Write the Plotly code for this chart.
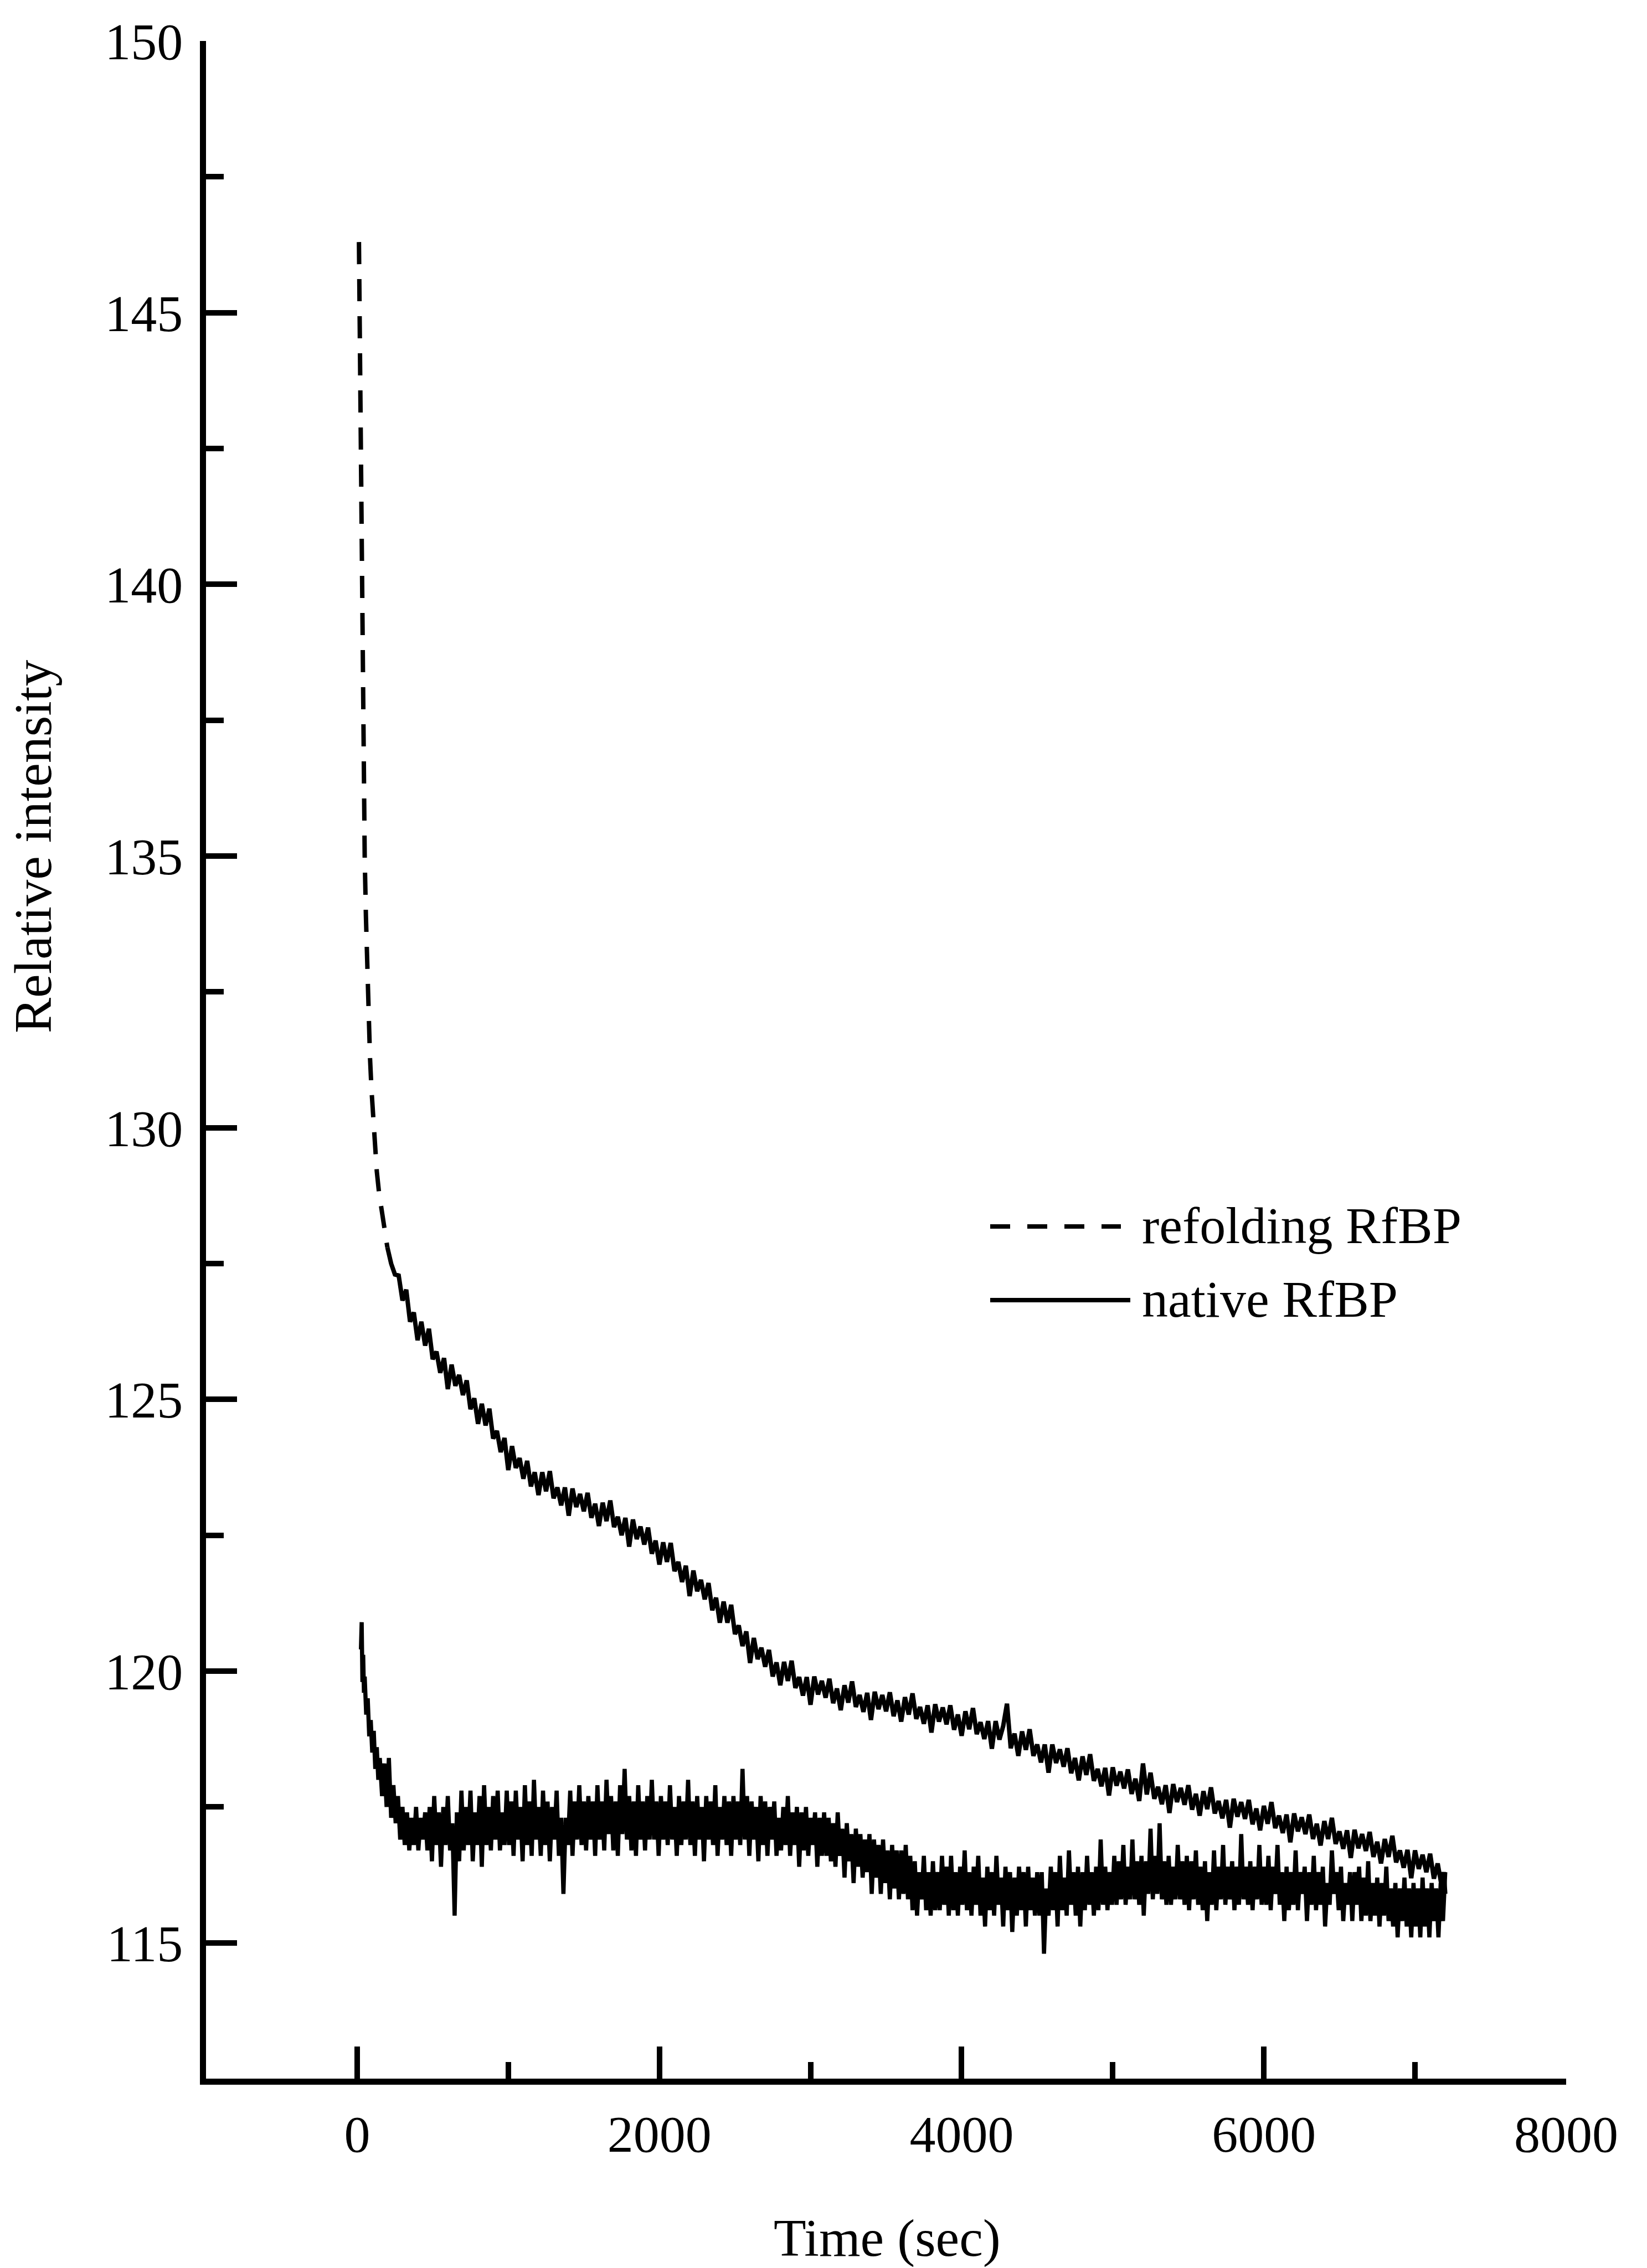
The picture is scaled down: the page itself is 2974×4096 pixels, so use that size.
import plotly.graph_objects as go

# ---------------- data ----------------
# refolding RfBP : time (s) and relative intensity
refold_t = [12, 16, 20, 24, 28, 32, 37, 42, 50, 58, 66, 75, 85, 95, 105, 115, 130, 145, 160, 180, 200, 225, 250,
            275, 300, 325, 350, 375, 400, 425, 450, 475, 500, 525, 550, 575, 600, 625, 650, 675, 700, 725, 750,
            775, 800, 825, 850, 875, 900, 925, 950, 975, 1000, 1025, 1050, 1075, 1100, 1125, 1150, 1175, 1200, 1225, 1250,
            1275, 1300, 1325, 1350, 1375, 1400, 1425, 1450, 1475, 1500, 1525, 1550, 1575, 1600, 1625, 1650, 1675, 1700, 1725, 1750,
            1775, 1800, 1825, 1850, 1875, 1900, 1925, 1950, 1975, 2000, 2025, 2050, 2075, 2100, 2125, 2150, 2175, 2200, 2225, 2250,
            2275, 2300, 2325, 2350, 2375, 2400, 2425, 2450, 2475, 2500, 2525, 2550, 2575, 2600, 2625, 2650, 2675, 2700, 2725, 2750,
            2775, 2800, 2825, 2850, 2875, 2900, 2925, 2950, 2975, 3000, 3025, 3050, 3075, 3100, 3125, 3150, 3175, 3200, 3225, 3250,
            3275, 3300, 3325, 3350, 3375, 3400, 3425, 3450, 3475, 3500, 3525, 3550, 3575, 3600, 3625, 3650, 3675, 3700, 3725, 3750,
            3775, 3800, 3825, 3850, 3875, 3900, 3925, 3950, 3975, 4000, 4025, 4050, 4075, 4100, 4125, 4150, 4175, 4200, 4225, 4250,
            4275, 4300, 4325, 4350, 4375, 4400, 4425, 4450, 4475, 4500, 4525, 4550, 4575, 4600, 4625, 4650, 4675, 4700, 4725, 4750,
            4775, 4800, 4825, 4850, 4875, 4900, 4925, 4950, 4975, 5000, 5025, 5050, 5075, 5100, 5125, 5150, 5175, 5200, 5225, 5250,
            5275, 5300, 5325, 5350, 5375, 5400, 5425, 5450, 5475, 5500, 5525, 5550, 5575, 5600, 5625, 5650, 5675, 5700, 5725, 5750,
            5775, 5800, 5825, 5850, 5875, 5900, 5925, 5950, 5975, 6000, 6025, 6050, 6075, 6100, 6125, 6150, 6175, 6200, 6225, 6250,
            6275, 6300, 6325, 6350, 6375, 6400, 6425, 6450, 6475, 6500, 6525, 6550, 6575, 6600, 6625, 6650, 6675, 6700, 6725, 6750,
            6775, 6800, 6825, 6850, 6875, 6900, 6925, 6950, 6975, 7000, 7025, 7050, 7075, 7100, 7125, 7150, 7175, 7190, 7200]
refold_y = [146.3, 145.0, 144.0, 142.2, 140.5, 138.8, 137.4, 136.3, 135.0, 133.9, 133.0, 132.2, 131.3, 130.7,
            130.2, 129.7, 129.2, 128.8, 128.5, 128.1, 127.8, 127.5, 127.3,
            127.28, 126.82, 127.02, 126.43, 126.60, 126.09, 126.43, 125.99, 126.30, 125.74,
            125.88, 125.49, 125.76, 125.19, 125.64, 125.25, 125.45, 125.08, 125.35, 124.82,
            125.02, 124.55, 124.92, 124.52, 124.83, 124.28, 124.42, 124.03, 124.29, 123.70,
            124.14, 123.74, 123.92, 123.54, 123.87, 123.40, 123.66, 123.24, 123.66, 123.31,
            123.68, 123.18, 123.38, 123.05, 123.38, 122.86, 123.36, 123.02, 123.26, 122.94,
            123.28, 122.82, 123.08, 122.67, 123.10, 122.76, 123.14, 122.65, 122.84, 122.50,
            122.82, 122.29, 122.79, 122.43, 122.66, 122.33, 122.64, 122.16, 122.40, 121.96,
            122.37, 122.01, 122.36, 121.84, 122.01, 121.64, 121.94, 121.38, 121.85, 121.47,
            121.68, 121.32, 121.62, 121.12, 121.35, 120.89, 121.28, 120.89, 121.22, 120.68,
            120.84, 120.46, 120.73, 120.15, 120.61, 120.22, 120.43, 120.08, 120.39, 119.90,
            120.16, 119.74, 120.17, 119.82, 120.19, 119.69, 119.89, 119.55, 119.89, 119.38,
            119.90, 119.57, 119.82, 119.51, 119.86, 119.41, 119.68, 119.28, 119.74, 119.42,
            119.81, 119.34, 119.56, 119.25, 119.60, 119.10, 119.62, 119.30, 119.56, 119.26,
            119.61, 119.17, 119.46, 119.07, 119.52, 119.20, 119.59, 119.12, 119.34, 119.03,
            119.37, 118.87, 119.39, 119.07, 119.33, 119.02, 119.37, 118.92, 119.20, 118.81,
            119.26, 118.93, 119.32, 118.84, 119.06, 118.75, 119.08, 118.57, 119.08, 118.74,
            118.99, 119.40, 118.58, 118.85, 118.44, 118.89, 118.55, 118.93, 118.44, 118.65,
            118.32, 118.65, 118.13, 118.65, 118.31, 118.56, 118.24, 118.58, 118.12, 118.40,
            117.99, 118.43, 118.09, 118.47, 117.98, 118.20, 117.88, 118.22, 117.71, 118.23,
            117.89, 118.15, 117.84, 118.19, 117.74, 118.02, 117.61, 118.30, 117.73, 118.13,
            117.65, 117.87, 117.55, 117.90, 117.39, 117.92, 117.59, 117.85, 117.54, 117.90,
            117.45, 117.74, 117.34, 117.79, 117.46, 117.86, 117.38, 117.61, 117.29, 117.63,
            117.12, 117.65, 117.32, 117.59, 117.28, 117.63, 117.18, 117.47, 117.07, 117.52,
            117.19, 117.59, 117.11, 117.34, 117.02, 117.36, 116.85, 117.38, 117.05, 117.31,
            117.00, 117.36, 116.91, 117.19, 116.79, 117.24, 116.91, 117.30, 116.82, 117.05,
            116.73, 117.07, 116.56, 117.08, 116.74, 117.00, 116.69, 117.04, 116.58, 116.86,
            116.46, 116.91, 116.58, 116.97, 116.48, 116.70, 116.38, 116.71, 116.19, 116.70,
            116.36, 116.62, 116.30, 116.64, 116.18, 116.46, 116.06, 116.30, 115.90]

# native RfBP : time (s) and relative intensity
native_t = [25, 30, 35, 40, 45, 50, 60, 70, 80, 90, 100, 110, 120, 130, 140, 150, 165, 180, 195, 210, 225,
            240, 255, 270, 285, 300, 315, 330, 345, 360, 375, 390, 405, 420, 435, 450,
            465, 480, 495, 510, 525, 540, 555, 570, 585, 600, 615, 630, 645, 660, 675, 690, 705, 720,
            735, 750, 765, 780, 795, 810, 825, 840, 855, 870, 885, 900, 915, 930, 945, 960, 975, 990,
            1005, 1020, 1035, 1050, 1065, 1080, 1095, 1110, 1125, 1140, 1155, 1170, 1185, 1200, 1215, 1230, 1245,
            1260, 1275, 1290, 1305, 1320, 1335, 1350, 1365, 1380, 1395, 1410, 1425, 1440, 1455, 1470, 1485, 1500,
            1515, 1530, 1545, 1560, 1575, 1590, 1605, 1620, 1635, 1650, 1665, 1680, 1695, 1710, 1725, 1740, 1755,
            1770, 1785, 1800, 1815, 1830, 1845, 1860, 1875, 1890, 1905, 1920, 1935, 1950, 1965, 1980, 1995, 2010,
            2025, 2040, 2055, 2070, 2085, 2100, 2115, 2130, 2145, 2160, 2175, 2190, 2205, 2220, 2235, 2250, 2265,
            2280, 2295, 2310, 2325, 2340, 2355, 2370, 2385, 2400, 2415, 2430, 2445, 2460, 2475, 2490, 2505, 2520,
            2535, 2550, 2565, 2580, 2595, 2610, 2625, 2640, 2655, 2670, 2685, 2700, 2715, 2730, 2745, 2760, 2775, 2790,
            2805, 2820, 2835, 2850, 2865, 2880, 2895, 2910, 2925, 2940, 2955, 2970, 2985, 3000, 3015, 3030, 3045,
            3060, 3075, 3090,
            3105, 3120, 3135, 3150, 3165, 3180, 3195, 3210, 3225, 3240, 3255, 3270, 3285, 3300, 3315, 3330, 3345,
            3360, 3375, 3390, 3405, 3420, 3435, 3450, 3465, 3480, 3495, 3510, 3525, 3540, 3555, 3570, 3585, 3600,
            3615, 3630, 3645, 3660, 3675, 3690, 3705, 3720, 3735, 3750, 3765, 3780, 3795, 3810, 3825, 3840,
            3855, 3870, 3885, 3900, 3915, 3930, 3945, 3960, 3975, 3990, 4005, 4020, 4035, 4050, 4065, 4080, 4095,
            4110, 4125, 4140, 4155, 4170, 4185, 4200, 4215, 4230, 4245, 4260, 4275, 4290, 4305, 4320, 4335, 4350,
            4365, 4380, 4395, 4410, 4425, 4440, 4455, 4470, 4485, 4500,
            4515, 4530, 4545, 4560, 4575, 4590, 4605, 4620, 4635, 4650, 4665, 4680, 4695, 4710, 4725, 4740, 4755,
            4770, 4785, 4800, 4815, 4830, 4845, 4860, 4875, 4890, 4905, 4920, 4935, 4950, 4965, 4980, 4995, 5010,
            5025, 5040, 5055, 5070, 5085, 5100, 5115, 5130, 5145, 5160, 5175, 5190, 5205, 5220, 5235, 5250, 5265,
            5280, 5295, 5310, 5325, 5340, 5355, 5370, 5385, 5400, 5415, 5430, 5445, 5460, 5475, 5490,
            5505, 5520, 5535, 5550, 5565, 5580, 5595, 5610, 5625, 5640, 5655, 5670, 5685, 5700, 5715, 5730, 5745,
            5760, 5775, 5790, 5805, 5820, 5835, 5850, 5865, 5880, 5895, 5910, 5925, 5940, 5955, 5970, 5985, 6000,
            6015, 6030, 6045, 6060, 6075, 6090, 6105, 6120, 6135, 6150, 6165, 6180, 6195, 6210, 6225, 6240, 6255,
            6270, 6285, 6300, 6315, 6330, 6345, 6360, 6375, 6390, 6405, 6420, 6435, 6450, 6465, 6480, 6495, 6510,
            6525, 6540, 6555, 6570, 6585, 6600,
            6615, 6630, 6645, 6660, 6675, 6690, 6705, 6720, 6735, 6750, 6765, 6780, 6795, 6810, 6825, 6840, 6855,
            6870, 6885, 6900, 6915, 6930, 6945, 6960, 6975, 6990, 7005, 7020, 7035, 7050, 7065, 7080, 7095, 7110,
            7125, 7140, 7155, 7170, 7185, 7200]
native_y = [120.4, 120.9, 119.8, 120.3, 119.6, 119.9, 119.2, 119.5, 118.8, 119.1, 118.5, 118.9, 118.2, 118.6,
            118.0, 118.4, 117.7, 118.3, 117.5, 118.4, 117.3, 117.9, 117.2, 117.7, 116.9, 117.5, 116.8, 117.4,
            116.7, 117.3, 116.8, 117.5, 116.7, 117.3, 116.9, 117.4,
            # 465 - 990
            116.7, 117.5, 116.5, 117.7, 116.8, 117.4, 116.4, 117.5, 116.8, 117.7, 116.7, 117.2, 115.5, 117.4,
            116.5, 117.8, 116.7, 117.5, 116.8, 117.8, 116.5, 117.4, 116.8, 117.7, 116.4, 117.9, 116.8, 117.5,
            116.7, 117.7, 116.9, 117.8, 116.7, 117.4, 116.8, 117.8,
            # 1005 - 1500
            116.8, 117.6, 116.6, 117.8, 116.9, 117.5, 116.5, 117.9, 116.8, 117.6, 116.6, 118.0, 116.9, 117.5,
            116.6, 117.8, 116.8, 117.6, 116.5, 117.5, 116.9, 117.8, 116.6, 117.3, 115.9, 117.3, 116.8, 117.8,
            116.6, 117.6, 116.9, 117.9, 116.8, 117.6,
            # 1515 - 2010
            116.7, 117.7, 116.9, 117.6, 116.6, 117.9, 116.9, 117.6, 116.7, 118.0, 117.0, 117.7, 116.7, 117.6,
            116.6, 117.9, 117.0, 118.2, 116.9, 117.7, 116.7, 117.6, 116.6, 117.9, 116.9, 117.6, 116.7, 117.7,
            116.9, 118.0, 116.9, 117.6, 116.6, 117.7,
            # 2025 - 2790
            116.9, 117.6, 116.8, 117.9, 116.9, 117.5, 116.6, 117.7, 116.8, 117.6,
            116.9, 118.0, 116.8, 117.6, 116.6, 117.7, 116.9, 117.5, 116.5, 117.7,
            116.9, 117.6, 116.8, 117.9, 116.6, 117.5, 116.9, 117.7, 116.8, 117.6,
            116.6, 117.7, 116.9, 117.6, 116.8, 118.2, 116.9, 117.7, 116.6, 117.6,
            116.9, 117.5, 116.5, 117.7, 116.8, 117.6, 116.6, 117.5, 116.9, 117.6,
            116.6, 117.3,
            # 2805 - 3090
            116.7, 117.5, 116.8, 117.7, 116.6, 117.4, 116.8, 117.5, 116.4, 117.4, 116.7, 117.5, 116.6, 117.3,
            116.8, 117.4, 116.4, 117.3, 116.6, 117.4,
            # 3105 - 3600
            116.6, 117.3, 116.5, 117.2, 116.4, 117.4, 116.6, 117.1, 116.2, 117.2, 116.5, 117.0, 116.1, 117.1,
            116.4, 117.0, 116.2, 116.9, 116.3, 117.0, 115.9, 116.9, 116.2, 116.8, 115.9, 116.9, 116.1, 116.7,
            115.8, 116.8, 116.0, 116.7, 115.8, 116.7,
            # 3615 - 3840
            115.9, 116.8, 115.8, 116.6, 115.6, 116.5, 115.5, 116.3, 115.8, 116.6, 115.6, 116.3, 115.5, 116.5,
            115.6, 116.3,
            # 3855 - 4500
            115.6, 116.6, 115.7, 116.4, 115.5, 116.6, 115.6, 116.3, 115.5, 116.4, 115.7, 116.7, 115.6, 116.3,
            115.5, 116.4, 115.7, 116.6, 115.5, 116.2, 115.3, 116.4, 115.6, 116.3, 115.5, 116.6, 115.7, 116.2,
            115.3, 116.4, 115.6, 116.3, 115.2, 116.2, 115.5, 116.4, 115.6, 116.3, 115.3, 116.4, 115.6, 116.2,
            115.5, 116.3,
            # 4515 - 5010
            115.5, 116.3, 114.8, 116.0, 115.5, 116.4, 115.6, 116.3, 115.3, 116.6, 115.6, 116.2, 115.5, 116.7,
            115.7, 116.3, 115.5, 116.4, 115.3, 116.3, 115.6, 116.6, 115.7, 116.3, 115.5, 116.4, 115.6, 116.9,
            115.7, 116.4, 115.6, 116.3, 115.7, 116.6,
            # 5025 - 5490
            115.7, 116.5, 115.8, 116.8, 115.7, 116.4, 115.8, 116.9, 115.8, 116.5, 115.7, 116.6, 115.5, 116.5,
            115.9, 117.1, 115.8, 116.6, 115.9, 117.2, 115.8, 116.5, 115.7, 116.6, 115.7, 116.4, 115.8, 116.8,
            115.8, 116.5, 115.7, 116.6,
            # 5505 - 6000
            115.6, 116.5, 115.8, 116.7, 115.7, 116.4, 115.6, 116.5, 115.4, 116.3, 115.7, 116.7, 115.6, 116.4,
            115.8, 116.8, 115.7, 116.4, 115.8, 116.5, 115.6, 116.4, 115.7, 117.0, 115.8, 116.4, 115.7, 116.5,
            115.6, 116.4, 115.8, 116.8, 115.7, 116.4,
            # 6015 - 6600
            115.7, 116.6, 115.6, 116.4, 115.9, 116.8, 115.7, 116.3, 115.4, 116.4, 115.6, 116.3, 115.7, 116.7,
            115.6, 116.3, 115.9, 116.4, 115.4, 116.3, 115.7, 116.6, 115.6, 116.3, 115.7, 116.4, 115.3, 116.1,
            115.7, 116.7, 115.9, 116.3, 115.6, 116.4, 115.4, 116.1, 115.7, 116.3, 115.4, 116.3,
            # 6615 - 7200
            115.7, 116.4, 115.4, 116.2, 115.5, 116.5, 115.4, 116.1, 115.5, 116.2, 115.3, 116.1, 115.5, 116.4,
            115.4, 116.0, 115.3, 116.1, 115.1, 116.0, 115.4, 116.2, 115.3, 116.0, 115.1, 116.1, 115.3, 116.0,
            115.1, 116.2, 115.3, 116.0, 115.1, 116.1, 115.4, 116.0, 115.1, 116.1, 115.4, 116.3]

x_ticks_major = 2000
y_ticks_major = 5
series_names = ["refolding RfBP", "native RfBP"]
x_title = "Time (sec)"
y_title = "Relative intensity"

assert len(refold_t) == len(refold_y), (len(refold_t), len(refold_y))
assert len(native_t) == len(native_y), (len(native_t), len(native_y))

# ---------------- layout geometry ----------------
W, H = 2974, 4096
ML, MR, MT, MB = 372, 146, 74, 342
PW = W - ML - MR
PH = H - MT - MB


def px_x(px):
    return (px - ML) / PW


def px_y(py):
    return (H - MB - py) / PH


FONT = "Liberation Serif"
DASH_CURVE = "40px,27px"
DASH_LEGEND = "36px,31px"

# The dense, noisy part of the refolding trace prints as a continuous band in the
# original; only the sparse early part shows clear dashes.  Same series, two pieces.
split = refold_t.index(200)

fig = go.Figure()
fig.add_trace(go.Scatter(x=refold_t[:split + 1], y=refold_y[:split + 1], mode="lines", name=series_names[0],
                         line=dict(color="black", width=8, dash=DASH_CURVE), showlegend=False))
fig.add_trace(go.Scatter(x=refold_t[split:], y=refold_y[split:], mode="lines", name=series_names[0],
                         line=dict(color="black", width=8), showlegend=False))
fig.add_trace(go.Scatter(x=native_t, y=native_y, mode="lines", name=series_names[1],
                         line=dict(color="black", width=7.5), showlegend=False))

axis_common = dict(ticks="inside", tickwidth=10, tickcolor="black", showline=True, linecolor="black",
                   linewidth=11, showgrid=False, zeroline=False, automargin=False,
                   tickfont=dict(family=FONT, size=94, color="black"))

fig.update_xaxes(range=[-1000, 8000], tick0=0, dtick=x_ticks_major, ticklen=58, ticklabelstandoff=8,
                 minor=dict(tick0=0, dtick=1000, ticks="inside", ticklen=30, tickwidth=10,
                            tickcolor="black", showgrid=False),
                 **axis_common)
fig.update_yaxes(range=[112.5, 150], tick0=0, dtick=y_ticks_major, ticklen=56, ticklabelstandoff=12,
                 minor=dict(tick0=0, dtick=2.5, ticks="inside", ticklen=32, tickwidth=10,
                            tickcolor="black", showgrid=False),
                 **axis_common)

# manual legend
legend_x0, legend_x1a, legend_x1b = 1788, 2024, 2041
legend_y1, legend_y2 = 2215, 2348
fig.add_shape(type="line", xref="paper", yref="paper", x0=px_x(legend_x0), x1=px_x(legend_x1a),
              y0=px_y(legend_y1), y1=px_y(legend_y1), line=dict(color="black", width=8, dash=DASH_LEGEND))
fig.add_shape(type="line", xref="paper", yref="paper", x0=px_x(legend_x0), x1=px_x(legend_x1b),
              y0=px_y(legend_y2), y1=px_y(legend_y2), line=dict(color="black", width=8))
for name, ly in zip(series_names, [legend_y1, legend_y2]):
    fig.add_annotation(text=name, xref="paper", yref="paper", x=px_x(2060), y=px_y(ly - 2),
                       xanchor="left", yanchor="middle", showarrow=False,
                       font=dict(family=FONT, size=94, color="black"))

# axis titles
fig.add_annotation(text=x_title, xref="paper", yref="paper", x=px_x(1602), y=px_y(4041),
                   xanchor="center", yanchor="middle", showarrow=False,
                   font=dict(family=FONT, size=96, color="black"))
fig.add_annotation(text=y_title, xref="paper", yref="paper", x=px_x(60), y=px_y(1529),
                   xanchor="center", yanchor="middle", showarrow=False, textangle=-90,
                   font=dict(family=FONT, size=96, color="black"))

fig.update_layout(width=W, height=H, margin=dict(l=ML, r=MR, t=MT, b=MB, pad=0),
                  paper_bgcolor="white", plot_bgcolor="white", showlegend=False)

fig.write_html("out.html")
